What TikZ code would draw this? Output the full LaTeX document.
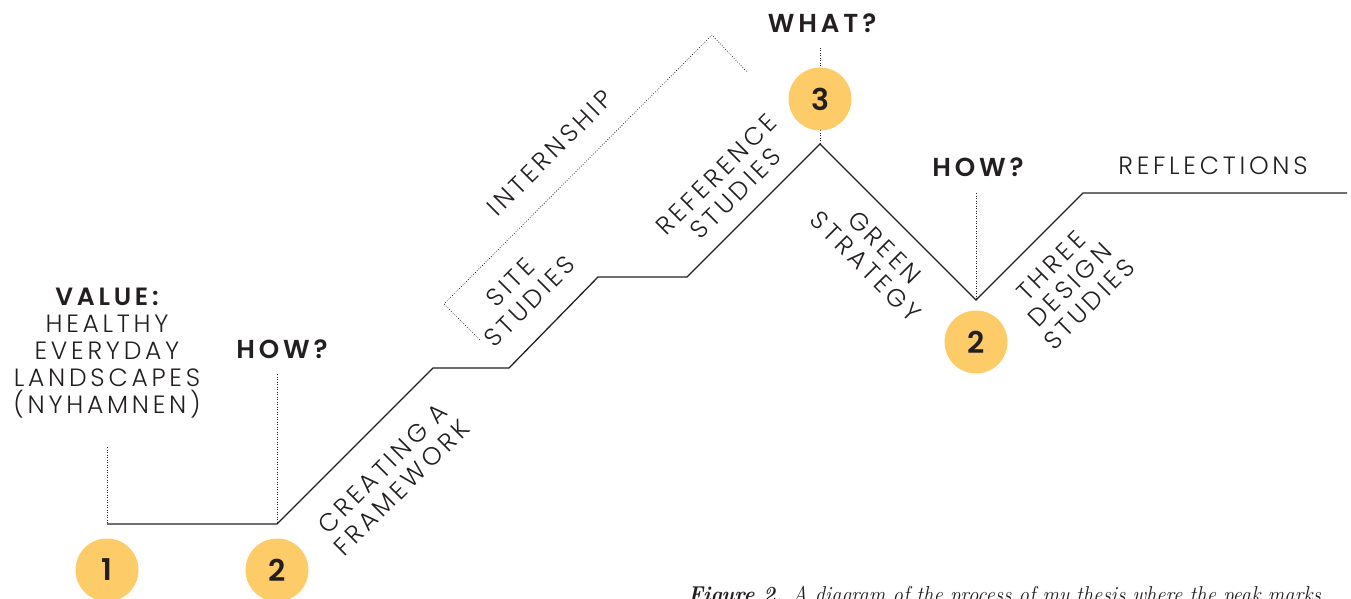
\documentclass[tikz,border=0pt]{standalone}
\usepackage{fontspec}
\newfontfamily\lab{Poppins Light}[LetterSpace=15]
\newfontfamily\labb{Poppins SemiBold}[LetterSpace=15]
\newfontfamily\numf{Poppins SemiBold}
\definecolor{ink}{RGB}{35,31,32}
\definecolor{ylw}{RGB}{253,203,104}
\tikzset{
  path/.style={draw=ink, line width=1.3pt, line join=miter},
  guide/.style={draw=ink, line width=0.8pt, dash pattern=on 0.9pt off 1.6pt},
  label/.style={text=ink, align=center, inner sep=0pt, font=\lab\fontsize{25}{27}\selectfont},
  qlabel/.style={text=ink, align=center, inner sep=0pt, font=\labb\fontsize{26}{28}\selectfont},
  marker/.style={circle, fill=ylw, minimum size=63pt, inner sep=0pt, text=ink, font=\numf\fontsize{30}{30}\selectfont}
}
\begin{document}
\begin{tikzpicture}[x=1pt, y=-1pt]
\useasboundingbox (0,0) rectangle (1351,599);
\clip (0,0) rectangle (1351,599);

% process line
\coordinate (p0) at (107,524);
\coordinate (p1) at (277,524);
\coordinate (p2) at (433,368);
\coordinate (p3) at (509,368);
\coordinate (p4) at (598,277);
\coordinate (p5) at (687,277);
\coordinate (p6) at (820,144);
\coordinate (p7) at (976,300);
\coordinate (p8) at (1083,193);
\coordinate (p9) at (1347,193);
\draw[path] (p0) -- (p1) -- (p2) -- (p3) -- (p4) -- (p5) -- (p6) -- (p7) -- (p8) -- (p9);

% dotted guides
\coordinate (g0) at (107,447);
\coordinate (g1) at (277,374);
\coordinate (g2) at (820,48);
\coordinate (g3) at (976,193);
\draw[guide] (g0) -- (p0);
\draw[guide] (g1) -- (p1);
\draw[guide] (g2) -- (p6);
\draw[guide] (g3) -- (p7);

% internship bracket
\coordinate (b0) at (480,340);
\coordinate (b1) at (444,304);
\coordinate (b2) at (712,35);
\coordinate (b3) at (747,72);
\draw[guide, line width=0.6pt] (b0) -- (b1) -- (b2) -- (b3);

% markers
\node[marker] (m1) at (107,570) {1};
\node[marker] (m2) at (277,570) {2};
\node[marker] (m3) at (820,99) {3};
\node[marker] (m4) at (976,342) {2};

% headings
\node[label] (value) at (107,353) {{\labb VALUE:}\\HEALTHY\\EVERYDAY\\LANDSCAPES\\(NYHAMNEN)};
\node[qlabel] (how1) at (282,349) {HOW?};
\node[qlabel] (what) at (822,23) {WHAT?};
\node[qlabel] (how2) at (978,167) {HOW?};
\node[label] (refl) at (1213,166) {REFLECTIONS};

% step labels
\node[label, rotate=45] (frame) at (392,478) {CREATING A\\FRAMEWORK};
\node[label, rotate=45] (site) at (520,292) {SITE\\STUDIES};
\node[label, rotate=45] (ref) at (726,184) {REFERENCE\\STUDIES};
\node[label, rotate=45] (intern) at (550,153) {INTERNSHIP};
\node[label, rotate=-45] (green) at (875,257) {GREEN\\STRATEGY};
\node[label, rotate=45] (three) at (1070,285) {THREE\\DESIGN\\STUDIES};

% caption
\node[anchor=base west, inner sep=0pt, xscale=0.9, text=ink, font=\fontsize{23}{25}\selectfont\itshape] (cap) at (688,602)
  {\textbf{Figure 2.} A diagram of the process of my thesis where the peak marks};
\end{tikzpicture}
\end{document}
